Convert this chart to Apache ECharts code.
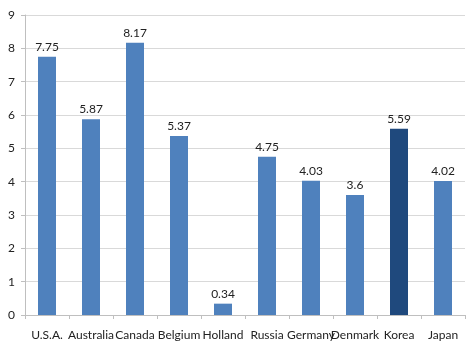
<!DOCTYPE html>
<html><head><meta charset="utf-8">
<script src="https://cdn.jsdelivr.net/npm/echarts@6/dist/echarts.min.js"></script>
<style>html,body{margin:0;padding:0;background:#fff}#c{width:467px;height:343px}</style>
</head><body><div id="c"></div>
<script>
var categories = ['U.S.A.','Australia','Canada','Belgium','Holland','Russia','Germany','Denmark','Korea','Japan'];
var values = [7.75,5.87,8.17,5.37,0.34,4.75,4.03,3.6,5.59,4.02];
var yTicks = [0,1,2,3,4,5,6,7,8,9];
var highlight = 'Korea';
var chart = echarts.init(document.getElementById('c'));
var font = 'Lato';
chart.setOption({
  animation:false,
  grid:{left:25,right:2,top:15,bottom:28},
  xAxis:{type:'category',data:categories,
    axisLine:{lineStyle:{color:'#bfbfbf'}},
    axisTick:{show:true,length:4,lineStyle:{color:'#bfbfbf'}},
    axisLabel:{color:'#222',fontFamily:font,fontSize:12,margin:14,interval:0}},
  yAxis:{type:'value',min:0,max:9,interval:1,
    axisLine:{show:true,lineStyle:{color:'#bfbfbf'}},
    axisTick:{show:true,length:4,lineStyle:{color:'#bfbfbf'}},
    splitLine:{lineStyle:{color:'#d9d9d9'}},
    axisLabel:{color:'#222',fontFamily:font,fontSize:12,margin:10}},
  series:[{type:'bar',barWidth:18,
    data:values.map(function(v,i){return {value:v,itemStyle:{color:categories[i]===highlight?'#1F497D':'#4F81BD'}};}),
    label:{show:true,position:'top',color:'#222',fontFamily:font,fontSize:12,distance:4}}]
});
</script></body></html>
